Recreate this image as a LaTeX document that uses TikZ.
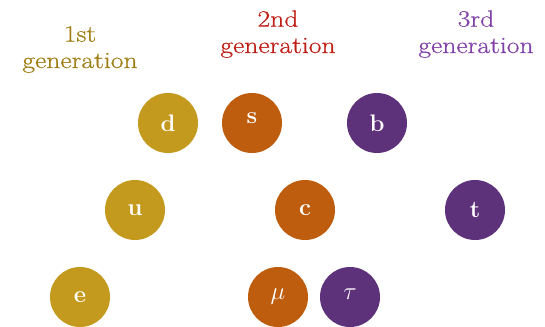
\documentclass[tikz,border=0pt]{standalone}
\usepackage{fontspec}
\newfontfamily\gentitlefont{Latin Modern Roman}[FakeStretch=1.18, FakeBold=0.6]
\definecolor{gengold}{HTML}{C49A1E}
\definecolor{genorange}{HTML}{BE5D0E}
\definecolor{genpurple}{HTML}{5E327A}
\definecolor{titlegold}{HTML}{A07D14}
\definecolor{titlered}{HTML}{BE1E14}
\definecolor{titlepurple}{HTML}{8040A8}
\begin{document}
\begin{tikzpicture}[x=1bp,y=-1bp,
  particle/.style={circle, minimum size=60bp, inner sep=0pt, text=white,
    font=\fontsize{24}{26}\selectfont\bfseries},
  gold/.style={particle, fill=gengold},
  orange/.style={particle, fill=genorange},
  purple/.style={particle, fill=genpurple},
  gentitle/.style={align=center, anchor=base,
    font=\gentitlefont\fontsize{23.5}{26.5}\selectfont}]
\useasboundingbox (0,0) rectangle (545,326);
% titles
\node[gentitle, text=titlegold]   (g1) at (80,68) {1st\\generation};
\node[gentitle, text=titlered]    (g2) at (278,53) {2nd\\generation};
\node[gentitle, text=titlepurple] (g3) at (476,53) {3rd\\generation};
% particles
\node[gold]   (d) at (168,123) {d};
\node[orange] (s) at (252,123) {\raisebox{4.5bp}[\height][\depth]{s}};
\node[purple] (b) at (377,123) {b};
\node[gold]   (u) at (135,210) {u};
\node[orange] (c) at (305,210) {c};
\node[purple] (t) at (475,210) {t};
\node[gold]   (e) at (80,297) {e};
\node[orange] (mu) at (278,297) {$\mu$};
\node[purple] (tau) at (350,297) {\raisebox{3bp}[\height][\depth]{$\tau$}};
\end{tikzpicture}
\end{document}
